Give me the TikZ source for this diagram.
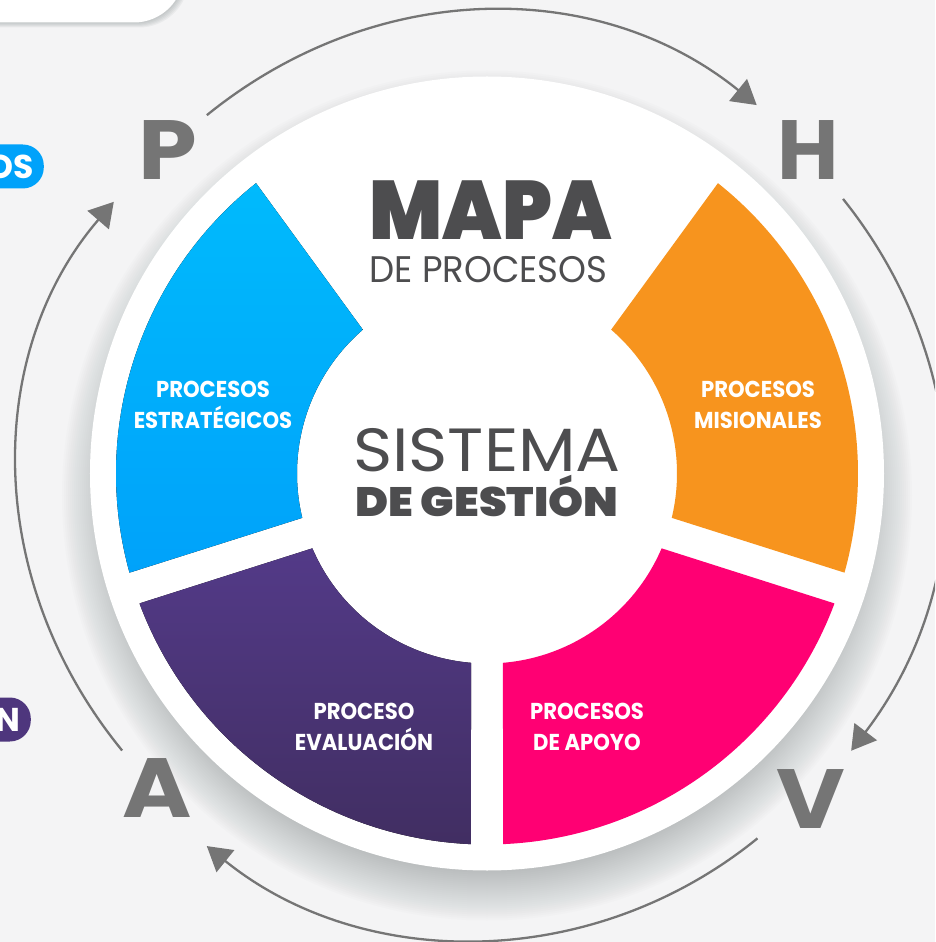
\documentclass[tikz,border=0pt]{standalone}
\usepackage{fontspec}
\setmainfont{Poppins}
\newfontfamily\heavyfont{Poppins Black}
\usetikzlibrary{arrows.meta}
\usetikzlibrary{positioning}
\definecolor{bgtone}{HTML}{F4F4F5}
\definecolor{inktone}{HTML}{4D4D4F}
\definecolor{looptone}{HTML}{757575}
\definecolor{hazetone}{HTML}{8A9494}
\definecolor{orangetone}{HTML}{F7941E}
\definecolor{pinktone}{HTML}{FF0073}
\definecolor{bluetop}{HTML}{00BAFC}
\definecolor{bluelow}{HTML}{00A2FA}
\definecolor{purpletop}{HTML}{533A88}
\definecolor{purplelow}{HTML}{412E62}
\tikzset{letra/.style = {circle, minimum size = 100, inner sep = 0, text = looptone,
                         font = \fontsize{84}{84}\selectfont\bfseries}}
\tikzset{lazo/.style = {draw = looptone, line width = 2.3, bend left = #1,
                        -{Triangle[length = 24, width = 28]}}}
\tikzset{rotulo/.style = {text = white, align = center, xscale = 0.92, transform shape,
                          font = \fontsize{23}{31}\selectfont\bfseries}}
\tikzset{titulo/.style = {anchor = base, text = inktone, transform shape}}
\tikzset{pastilla/.style = {anchor = east, rounded corners = 21, minimum height = 44,
                            minimum width = 120, text width = 100, align = right, text = white,
                            inner xsep = 10, font = \fontsize{33}{33}\selectfont\bfseries}}
\begin{document}
\begin{tikzpicture}[x = 1pt, y = 1pt]
    \useasboundingbox (-487, -468.5) rectangle (448, 473.5);
    \clip (-487, -468.5) rectangle (448, 473.5);
    \fill [bgtone] (-487, -468.5) rectangle (448, 473.5);

    % card in the corner
    \foreach \d in {0, 1, ..., 5} {
        \fill [hazetone, opacity = 0.1, rounded corners = 50] (-560, 451 - \d) rectangle (-303 + \d, 560);
    }
    \fill [white, rounded corners = 50] (-560, 451) rectangle (-303, 560);

    \node [pastilla, fill = bluelow] (pillblue) at (-443, 307) {OS};
    \node [pastilla, fill = purpletop!70!purplelow] (pillpurple) at (-456, -246) {N};

    % soft shadow of the disc
    \foreach \r in {375, 377, ..., 425} {
        \fill [hazetone, opacity = 0.023] (0, -22) circle [radius = \r];
    }
    \fill [white] (0, 0) circle [radius = 397];

    \fill [top color = bluetop, bottom color = bluelow] (128.5:371) arc [start angle = 128.5, end angle = 195.5, radius = 371]
        -- (193.5:190) arc [start angle = 193.5, end angle = 130.8, radius = 190] -- cycle;
    \fill [top color = purpletop, bottom color = purplelow] (200.5:371) arc [start angle = 200.5, end angle = 267.5, radius = 371]
        -- (265.2:190) arc [start angle = 265.2, end angle = 203.2, radius = 190] -- cycle;
    \fill [pinktone] (272.5:371) arc [start angle = 272.5, end angle = 339.5, radius = 371]
        -- (336.8:190) arc [start angle = 336.8, end angle = 274.8, radius = 190] -- cycle;
    \fill [orangetone] (51.5:371) arc [start angle = 51.5, end angle = -15.5, radius = 371]
        -- (-13.5:190) arc [start angle = -13.5, end angle = 49.2, radius = 190] -- cycle;

    \node [titulo, xscale = 0.927, font = \heavyfont\fontsize{83}{83}\selectfont] (mapa) at (3.5, 233.5) {MAPA};
    \node [titulo, xscale = 0.96, font = \fontsize{37}{37}\selectfont] (deprocesos) at (1.5, 190.5) {DE PROCESOS};
    \node [titulo, xscale = 1.095, font = \fontsize{61}{61}\selectfont] (sistema) at (0, 1.5) {SISTEMA};
    \node [titulo, xscale = 1.087, font = \heavyfont\fontsize{41}{41}\selectfont] (degestion) at (0, -42.5) {DE GESTIÓN};

    \node [rotulo] (estrategicos) at (-274, 69) {PROCESOS\\ESTRATÉGICOS};
    \node [rotulo] (misionales) at (271, 69) {PROCESOS\\MISIONALES};
    \node [rotulo] (evaluacion) at (-123, -253) {PROCESO\\EVALUACIÓN};
    \node [rotulo] (apoyo) at (100, -253) {PROCESOS\\DE APOYO};

    \node [letra] (letP) at (-319, 323.5) {\scalebox{1.12}[1]{P}};
    \node [letra] (letH) at (321, 323.5) {H};
    \node [letra] (letV) at (324, -326) {\scalebox{1.12}[1]{V}};
    \node [letra] (letA) at (-330, -314.5) {\scalebox{1.12}[1]{A}};

    \draw [lazo = 39, shorten < = 2, shorten > = 18] (letP.42.7) to (letH.138.6);
    \draw [lazo = 38, shorten < = 10, shorten > = 13] (letH.-55.8) to (letV.50.8);
    \draw [lazo = 39, shorten < = 16, shorten > = 27] (letV.215) to (letA.-55);
    \draw [lazo = 40, shorten < = 1, shorten > = 25] (letA.133.4) to (letP.221);
  \end{tikzpicture}
\end{document}
